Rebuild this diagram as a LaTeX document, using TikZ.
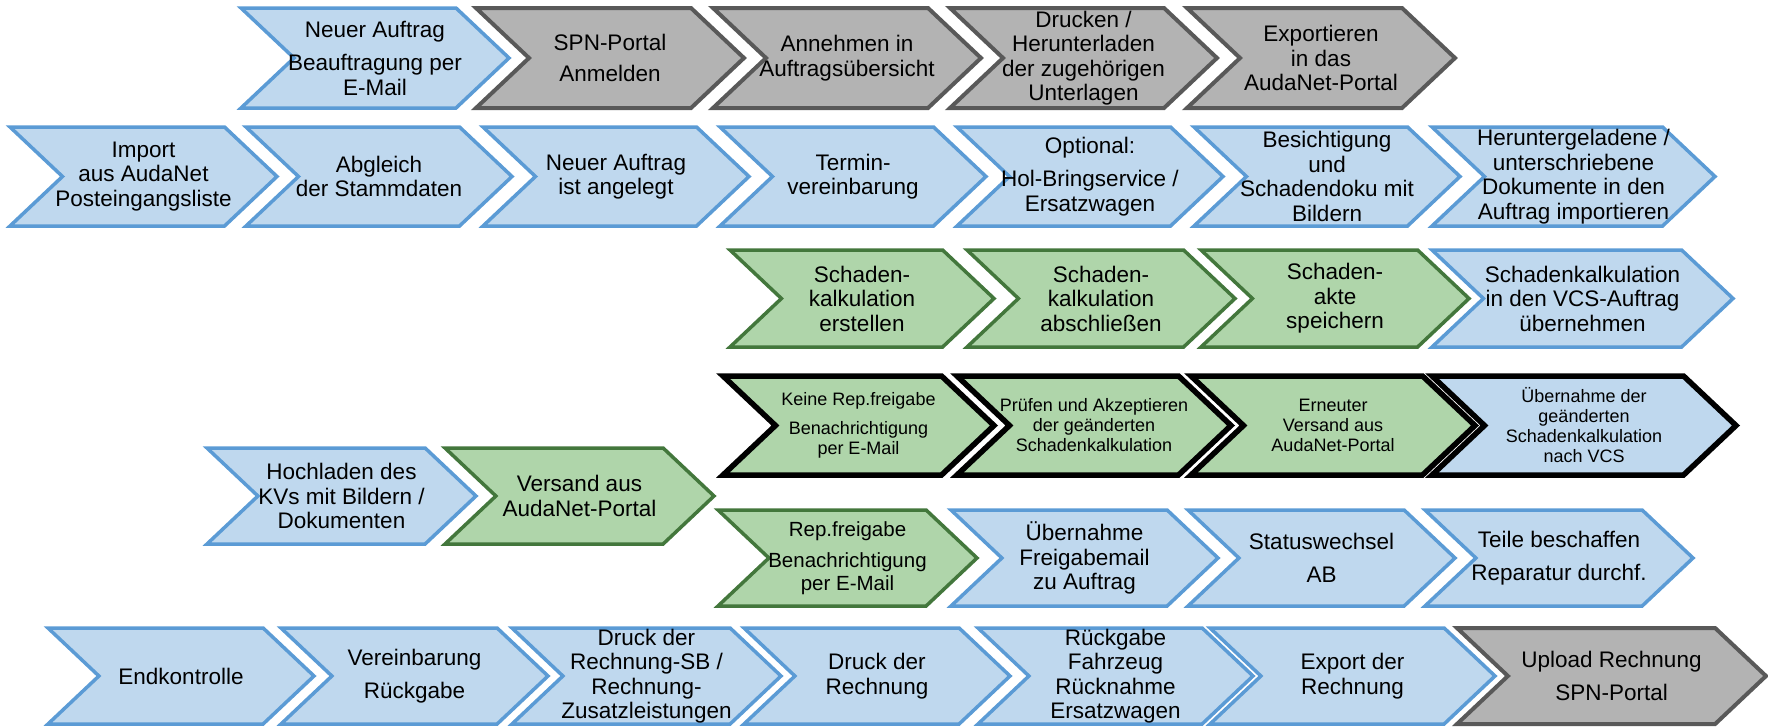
\documentclass[tikz,border=0pt]{standalone}
\usepackage{fontspec}
\setmainfont{Liberation Sans}
\definecolor{bfill}{HTML}{BFD8EE}
\definecolor{bline}{HTML}{5B9BD5}
\definecolor{gfill}{HTML}{B3B3B3}
\definecolor{gline}{HTML}{595959}
\definecolor{grfill}{HTML}{AFD5AA}
\definecolor{grline}{HTML}{43773C}
\newcommand\chev[8]{%
  \pgfmathsetmacro\cd{0.53*(#6-#5)}%
  \pgfmathsetmacro\cm{(#5+#6)/2}%
  \pgfmathsetmacro\cx{(#3+#4)/2}%
  \draw[#2] (#3,#5) -- ({#4-\cd},#5) -- (#4,\cm) -- ({#4-\cd},#6) -- (#3,#6) -- ({#3+\cd},\cm) -- cycle;
  \node[txt,#7] (#1) at (\cx,\cm) {#8};
}
\begin{document}
\begin{tikzpicture}[x=1pt,y=-1pt,
  txt/.style={align=center,inner sep=0pt,font=\fontsize{22.5}{24.5}\selectfont},
  small/.style={font=\fontsize{18}{20}\selectfont},
  mid/.style={font=\fontsize{20.5}{23}\selectfont},
  bluechev/.style={fill=bfill,draw=bline,line width=3.5pt},
  graychev/.style={fill=gfill,draw=gline,line width=4pt},
  greenchev/.style={fill=grfill,draw=grline,line width=3.5pt},
  bgreenchev/.style={fill=grfill,draw=black,line width=5.5pt},
  bbluechev/.style={fill=bfill,draw=black,line width=5.5pt}]
\useasboundingbox (0,0) rectangle (1768,726);
% Row 1
\chev{n11}{bluechev}{241}{509}{8}{108}{}{Neuer Auftrag\\[9pt]Beauftragung per\\E-Mail}
\chev{n12}{graychev}{476}{744}{8}{108}{}{SPN-Portal\\[7pt]Anmelden}
\chev{n13}{graychev}{713}{981}{8}{108}{}{Annehmen in\\Auftragsübersicht}
\chev{n14}{graychev}{950}{1217}{8}{108}{}{Drucken /\\Herunterladen\\der zugehörigen\\Unterlagen}
\chev{n15}{graychev}{1187}{1455}{8}{108}{}{Exportieren\\in das\\AudaNet-Portal}
% Row 2
\chev{n21}{bluechev}{10}{277}{127}{226}{}{Import\\aus AudaNet\\Posteingangsliste}
\chev{n22}{bluechev}{246}{512}{127}{226}{}{Abgleich\\der Stammdaten}
\chev{n23}{bluechev}{483}{749}{127}{226}{}{Neuer Auftrag\\ist angelegt}
\chev{n24}{bluechev}{720}{986}{127}{226}{}{Termin-\\vereinbarung}
\chev{n25}{bluechev}{957}{1223}{127}{226}{}{Optional:\\[9pt]Hol-Bringservice /\\Ersatzwagen}
\chev{n26}{bluechev}{1194}{1460}{127}{226}{}{Besichtigung\\und\\Schadendoku mit\\Bildern}
\chev{n27}{bluechev}{1432}{1715}{127}{226}{}{Heruntergeladene /\\unterschriebene\\Dokumente in den\\Auftrag importieren}
% Row 3
\chev{n31}{greenchev}{730}{994}{250}{347}{}{Schaden-\\kalkulation\\erstellen}
\chev{n32}{greenchev}{967}{1235}{250}{347}{}{Schaden-\\kalkulation\\abschließen}
\chev{n33}{greenchev}{1201}{1469}{250}{347}{}{Schaden-\\akte\\speichern}
\chev{n34}{bluechev}{1432}{1733}{250}{347}{}{Schadenkalkulation\\in den VCS-Auftrag\\übernehmen}
% Row 4
\chev{n41}{bgreenchev}{723}{994}{376}{475}{small}{Keine Rep.freigabe\\[9pt]Benachrichtigung\\per E-Mail}
\chev{n42}{bgreenchev}{957}{1231}{376}{475}{small}{Prüfen und Akzeptieren\\der geänderten\\Schadenkalkulation}
\chev{n43}{bgreenchev}{1191}{1475}{376}{475}{small}{Erneuter\\Versand aus\\AudaNet-Portal}
\chev{n44}{bbluechev}{1432}{1736}{376}{475}{small}{Übernahme der\\geänderten\\Schadenkalkulation\\nach VCS}
% Row 4b
\chev{n45}{bluechev}{207}{476}{448}{544}{}{Hochladen des\\KVs mit Bildern /\\Dokumenten}
\chev{n46}{greenchev}{445}{714}{448}{544}{}{Versand aus\\AudaNet-Portal}
% Row 5
\chev{n51}{greenchev}{718}{977}{510}{606}{mid}{Rep.freigabe\\[8pt]Benachrichtigung\\per E-Mail}
\chev{n52}{bluechev}{951}{1218}{510}{606}{}{Übernahme\\Freigabemail\\zu Auftrag}
\chev{n53}{bluechev}{1188}{1455}{510}{606}{}{Statuswechsel\\[8pt]AB}
\chev{n54}{bluechev}{1425}{1693}{510}{606}{}{Teile beschaffen\\[8pt]Reparatur durchf.}
% Row 6
\chev{n61}{bluechev}{48}{314}{628}{724}{}{Endkontrolle}
\chev{n62}{bluechev}{281}{548}{628}{724}{}{Vereinbarung\\[8pt]Rückgabe}
\chev{n63}{bluechev}{512}{781}{628}{724}{}{Druck der\\Rechnung-SB /\\Rechnung-\\Zusatzleistungen}
\chev{n64}{bluechev}{744}{1010}{628}{724}{}{Druck der\\Rechnung}
\chev{n65}{bluechev}{978}{1253}{628}{724}{}{Rückgabe\\Fahrzeug\\Rücknahme\\Ersatzwagen}
\chev{n66}{bluechev}{1210}{1495}{628}{724}{}{Export der\\Rechnung}
\chev{n67}{graychev}{1457}{1766}{628}{724}{}{Upload Rechnung\\[8pt]SPN-Portal}
\end{tikzpicture}
\end{document}
